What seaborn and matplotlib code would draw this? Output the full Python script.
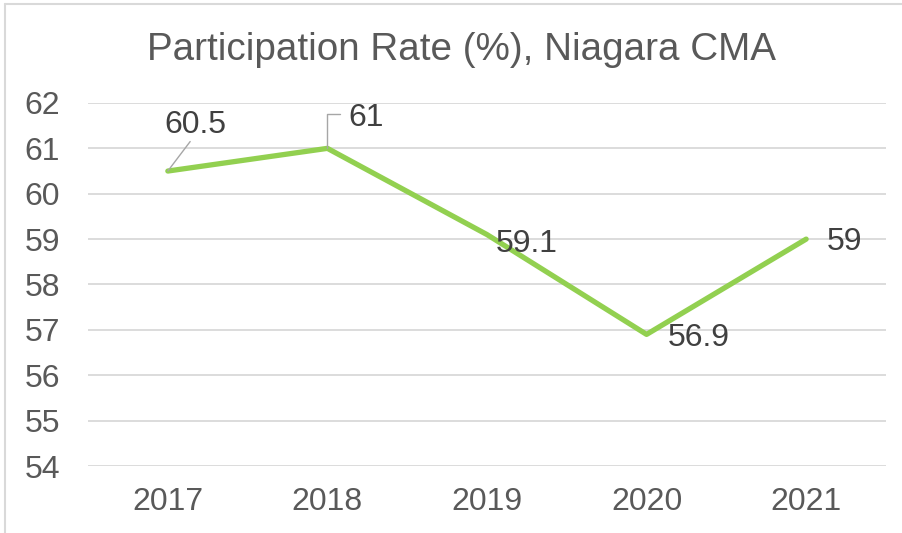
import pandas as pd
import seaborn as sns
import matplotlib.pyplot as plt

years = ['2017', '2018', '2019', '2020', '2021']
rates = [60.5, 61, 59.1, 56.9, 59]
labels = ['60.5', '61', '59.1', '56.9', '59']

df = pd.DataFrame({'year': years, 'rate': rates})

sns.set_style('white')
plt.rcParams['font.family'] = ['Liberation Sans', 'DejaVu Sans']

fig = plt.figure(figsize=(9.02, 5.33), dpi=100)
ax = fig.add_axes([0.0976, 0.1257, 0.8846, 0.6811])

sns.lineplot(data=df, x='year', y='rate', ax=ax, color='#92D050', linewidth=3.8, sort=False)

ax.set_xlim(-0.5, 4.5)
ax.set_ylim(54, 62)
ax.set_yticks(range(54, 63))
ax.grid(axis='y', color='#D9D9D9', linewidth=1.3)
ax.set_axisbelow(True)
for s in ax.spines.values():
    s.set_visible(False)
ax.tick_params(axis='both', length=0, labelsize=23, labelcolor='#595959')
ax.tick_params(axis='x', pad=15)
ax.tick_params(axis='y', pad=20)
ax.set_xlabel('')
ax.set_ylabel('')

fig.text(0.512, 0.906, 'Participation Rate (%), Niagara CMA', ha='center', va='center',
         fontsize=27.8, color='#595959')

# data labels, some with leader lines
offsets = [(0.17, 1.02), (0.24, 0.66), (0.25, -0.2), (0.33, -0.08), (0.24, -0.07)]
for i, (v, lab) in enumerate(zip(rates, labels)):
    dx, dy = offsets[i]
    ax.text(i + dx, v + dy, lab, fontsize=23, color='#404040', ha='center', va='center')

ax.plot([0, 0.14], [60.5, 61.15], color='#A6A6A6', linewidth=1)
ax.plot([1, 1, 1.08], [61, 61.76, 61.76], color='#A6A6A6', linewidth=1)

# outer chart border (top and left visible)
fig.add_artist(plt.Line2D([0.005, 0.005], [0, 0.993], color='#D9D9D9', linewidth=1.5))
fig.add_artist(plt.Line2D([0.005, 1], [0.993, 0.993], color='#D9D9D9', linewidth=1.5))

fig.savefig('out.png', dpi=100)
